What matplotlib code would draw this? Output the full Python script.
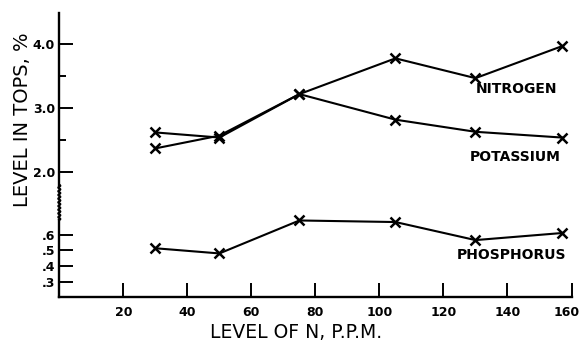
import numpy as np
import matplotlib
matplotlib.use('Agg')
import matplotlib.pyplot as plt
import matplotlib.transforms as mtransforms
from matplotlib.lines import Line2D

# levels of N in the nutrient solution, p.p.m.
n_level = [30, 50, 75, 105, 130, 157]
# per cent in the tops
nitrogen = [2.37, 2.57, 3.22, 3.78, 3.47, 3.97]
potassium = [2.62, 2.54, 3.22, 2.82, 2.63, 2.54]
phosphorus = [0.513, 0.48, 0.69, 0.68, 0.565, 0.61]

x_ticks = [20, 40, 60, 80, 100, 120, 140, 160]
upper_ticks = [2.0, 3.0, 4.0]
upper_minor = [2.5, 3.5]
lower_ticks = [0.3, 0.4, 0.5, 0.6]
lower_labels = ['.3', '.4', '.5', '.6']

W, H = 583, 345
fig = plt.figure(figsize=(W / 100, H / 100), dpi=100)

left = 59.3 / W
width = (571.5 - 59.3) / W
ax_up = fig.add_axes([left, 1 - 185 / H, width, (185 - 13) / H])
ax_lo = fig.add_axes([left, 1 - 297.3 / H, width, (297.3 - 220) / H])

line_kw = dict(color='black', lw=1.5, marker='x', ms=6.5, mew=1.8, clip_on=False)
ax_up.plot(n_level, nitrogen, **line_kw)
ax_up.plot(n_level, potassium, **line_kw)
ax_lo.plot(n_level, phosphorus, **line_kw)

for ax in (ax_up, ax_lo):
    ax.set_xlim(0, 160)
    ax.set_facecolor('none')
    for s in ('top', 'right'):
        ax.spines[s].set_visible(False)
    ax.spines['left'].set_linewidth(1.7)
    ax.spines['bottom'].set_linewidth(1.7)

# upper part of the broken axis
ax_up.set_ylim(1.797, 4.49)
ax_up.spines['bottom'].set_visible(False)
ax_up.set_xticks([])
ax_up.set_yticks(upper_ticks)
ax_up.set_yticklabels(['2.0', '3.0', '4.0'], fontweight='bold')
ax_up.set_yticks(upper_minor, minor=True)
ax_up.tick_params(axis='y', which='major', direction='in', length=10, width=1.4,
                  pad=3, labelsize=9)
ax_up.tick_params(axis='y', which='minor', direction='in', length=5, width=1.4)

# lower part
ax_lo.set_ylim(0.2006, 0.693)
ax_lo.set_yticks(lower_ticks)
ax_lo.set_yticklabels(lower_labels, fontweight='bold')
ax_lo.set_xticks(x_ticks)
ax_lo.set_xticklabels([str(v) for v in x_ticks], fontweight='bold')
ax_lo.tick_params(axis='y', direction='in', length=10, width=1.4, pad=3, labelsize=9)
ax_lo.tick_params(axis='x', direction='in', length=10, width=1.4, pad=6, labelsize=9)
# keep the last label inside the picture
last = ax_lo.get_xticklabels()[-1]
last.set_transform(last.get_transform() +
                   mtransforms.ScaledTranslation(-5 / 100, 0, fig.dpi_scale_trans))

# wiggly break in the y axis
yy = np.linspace(185, 220, 80)
xx = 59.3 + 1.0 * np.sin(yy * 1.7)
fig.add_artist(Line2D(xx / W, 1 - yy / H, color='black', lw=1.6))

# curve names
name_kw = dict(fontsize=10, fontweight='bold', va='center', ha='left')
ax_up.text(130.2, 3.30, 'NITROGEN', **name_kw)
ax_up.text(128.3, 2.236, 'POTASSIUM', **name_kw)
ax_lo.text(124.0, 0.47, 'PHOSPHORUS', **name_kw)

fig.text(296 / W, 1 - 333 / H, 'LEVEL OF N, P.P.M.', fontsize=13.5,
         ha='center', va='center')
fig.text(23 / W, 1 - 120 / H, 'LEVEL IN TOPS, %', fontsize=14, rotation=90,
         ha='center', va='center')

fig.savefig('out.png', dpi=100)
